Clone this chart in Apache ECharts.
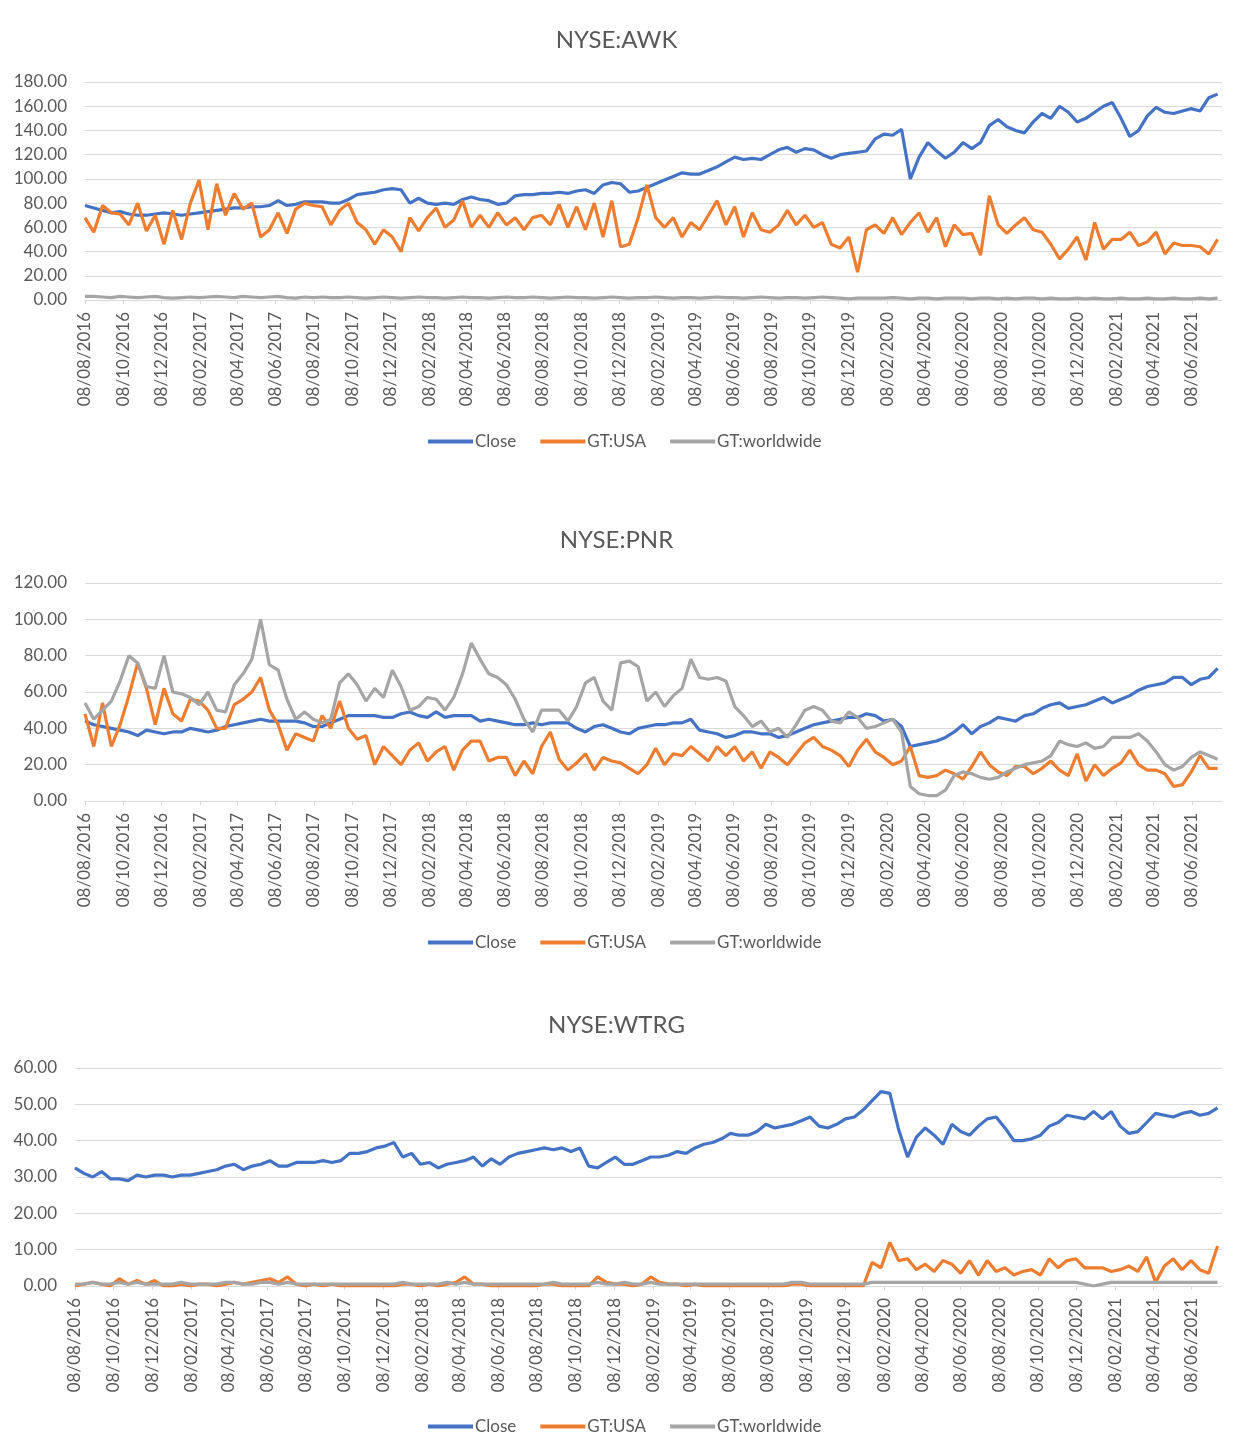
<!DOCTYPE html>
<html>
<head>
<meta charset="utf-8">
<script src="https://cdn.jsdelivr.net/npm/echarts@6/dist/echarts.min.js"></script>
<style>html,body{margin:0;padding:0;background:#fff}#c{width:1233px;height:1450px}</style>
</head>
<body>
<div id="c"></div>
<script>
// Weekly-style observations sampled every 14 days from 08/08/2016
const startDate = '2016-08-08';
const stepDays = 14;
const seriesNames = ['Close', 'GT:USA', 'GT:worldwide'];
const titles = ['NYSE:AWK', 'NYSE:PNR', 'NYSE:WTRG'];

const tickLabels = ['08/08/2016','08/10/2016','08/12/2016','08/02/2017','08/04/2017','08/06/2017','08/08/2017','08/10/2017','08/12/2017','08/02/2018','08/04/2018','08/06/2018','08/08/2018','08/10/2018','08/12/2018','08/02/2019','08/04/2019','08/06/2019','08/08/2019','08/10/2019','08/12/2019','08/02/2020','08/04/2020','08/06/2020','08/08/2020','08/10/2020','08/12/2020','08/02/2021','08/04/2021','08/06/2021'];

const awkClose = [78,76,74,72,73,71,70,70,71,72, 71,70,71,72,73,74,75,76,76,77, 77,78,82,78,79,81,81,81,80,80, 83,87,88,89,91,92,91,80,84,80, 79,80,79,83,85,83,82,79,80,86, 87,87,88,88,89,88,90,91,88,95, 97,96,89,90,93,96,99,102,105,104, 104,107,110,114,118,116,117,116,120,124, 126,122,125,124,120,117,120,121,122,123, 133,137,136,141,100,118,130,123,117,122, 130,125,130,144,149,143,140,138,147,154, 150,160,155,147,150,155,160,163,150,135, 140,152,159,155,154,156,158,156,167,170];
const awkUSA = [68,56,78,72,71,62,80,57,70,46, 74,50,80,99,58,96,70,88,75,80, 52,58,72,55,75,80,78,77,62,74, 80,64,58,46,58,52,40,68,57,68, 76,60,66,82,60,70,60,72,62,68, 58,68,70,62,79,60,77,58,80,52, 82,44,46,68,95,68,60,68,52,64, 58,70,82,62,77,52,72,58,56,62, 74,62,70,60,64,46,43,52,23,58, 62,55,68,54,64,72,56,68,44,62, 54,55,37,86,62,55,62,68,58,56, 46,34,42,52,33,64,42,50,50,56, 45,48,56,38,47,45,45,44,38,50];
const awkWorld = [3,3,2.5,2,3,2.5,2,2.5,3,2, 1.5,2,2.5,2,2.5,3,2.5,2,3,2.5, 2,2.5,3,2,1.5,2.5,2,2.5,2,2, 2.5,2,1.5,2,2.5,2,1.5,2,2.5,2, 2,1.5,2,2.5,2,2,1.5,2,2.5,2, 2,2.5,2,1.5,2,2.5,2,2,1.5,2, 2.5,2,1.5,2,2,2.5,2,1.5,2,2, 1.5,2,2.5,2,2,1.5,2,2.5,2,1.5, 2,2,1.5,2,2.5,2,1.5,1,1.5,1.5, 1.5,1.5,2,1.5,1,1.5,1.5,1,1.5,1.5, 1.5,1,1.5,1.5,1,1.5,1,1.5,1.5,1, 1.5,1,1,1.5,1,1.5,1,1,1.5,1, 1,1.5,1,1,1.5,1,1,1.5,1,1.5];

const pnrClose = [44,42,41,40,39,38,36,39,38,37, 38,38,40,39,38,39,41,42,43,44, 45,44,44,44,44,43,41,41,43,45, 47,47,47,47,46,46,48,49,47,46, 49,46,47,47,47,44,45,44,43,42, 42,43,42,43,43,43,40,38,41,42, 40,38,37,40,41,42,42,43,43,45, 39,38,37,35,36,38,38,37,37,35, 36,38,40,42,43,44,45,46,46,48, 47,44,45,41,30,31,32,33,35,38, 42,37,41,43,46,45,44,47,48,51, 53,54,51,52,53,55,57,54,56,58, 61,63,64,65,68,68,64,67,68,73];
const pnrUSA = [48,30,54,30,42,58,76,62,42,62, 48,44,56,55,50,40,40,53,56,60, 68,50,42,28,37,35,33,47,40,55, 40,34,36,20,30,25,20,28,32,22, 27,30,17,28,33,33,22,24,24,14, 22,15,30,38,23,17,21,26,17,24, 22,21,18,15,20,29,20,26,25,30, 26,22,30,25,30,22,27,18,27,24, 20,26,32,35,30,28,25,19,28,34, 27,24,20,22,30,14,13,14,17,15, 12,19,27,20,16,14,19,19,15,18, 22,17,14,26,11,20,14,18,21,28, 20,17,17,15,8,9,16,25,18,18];
const pnrWorld = [54,45,50,55,66,80,76,63,62,80, 60,59,57,53,60,50,49,64,70,78, 100,75,72,56,45,49,45,43,45,65, 70,64,55,62,57,72,63,50,52,57, 56,50,57,70,87,78,70,68,64,56, 45,38,50,50,50,44,52,65,68,55, 50,76,77,74,55,60,52,58,62,78, 68,67,68,66,52,47,41,44,38,40, 35,42,50,52,50,44,43,49,46,40, 41,43,45,38,8,4,3,3,6,14, 16,15,13,12,13,16,18,20,21,22, 25,33,31,30,32,29,30,35,35,35, 37,33,27,20,17,19,24,27,25,23];

const wtrgClose = [32.5,31,30,31.5,29.5,29.5,29,30.5,30,30.5, 30.5,30,30.5,30.5,31,31.5,32,33,33.5,32, 33,33.5,34.5,33,33,34,34,34,34.5,34, 34.5,36.5,36.5,37,38,38.5,39.5,35.5,36.5,33.5, 34,32.5,33.5,34,34.5,35.5,33,35,33.5,35.5, 36.5,37,37.5,38,37.5,38,37,38,33,32.5, 34,35.5,33.5,33.5,34.5,35.5,35.5,36,37,36.5, 38,39,39.5,40.5,42,41.5,41.5,42.5,44.5,43.5, 44,44.5,45.5,46.5,44,43.5,44.5,46,46.5,48.5, 51,53.5,53,43,35.5,41,43.5,41.5,39,44.5, 42.5,41.5,44,46,46.5,43.5,40,40,40.5,41.5, 44,45,47,46.5,46,48,46,48,44,42, 42.5,45,47.5,47,46.5,47.5,48,47,47.5,49];
const wtrgUSA = [0,0.5,1,0.5,0,2,0.5,1.5,0.5,1.5, 0,0,0.5,0,0.5,0.5,0,0.5,1,0.5, 1,1.5,2,1,2.5,0.5,0,0.5,0,0.5, 0,0,0,0,0,0,0,0.5,0.5,0, 0.5,0,0.5,1,2.5,0.5,0.5,0,0,0, 0,0,0,0.5,0.5,0,0,0,0,2.5, 1,0.5,0.5,0,0.5,2.5,1,0.5,0.5,0, 0.5,0,0,0,0,0,0,0,0,0, 0,0.5,0.5,0,0,0,0,0,0,0, 6.5,5,12,7,7.5,4.5,6,4,7,6, 3.5,7,3,7,4,5,3,4,4.5,3, 7.5,5,7,7.5,5,5,5,4,4.5,5.5, 4,8,1,5.5,7.5,4.5,7,4.5,3.5,11];
const wtrgWorld = [0.5,0.5,1,0.5,0.5,1,0.5,1,0.5,0.5, 0.5,0.5,1,0.5,0.5,0.5,0.5,1,1,0.5, 0.5,1,1,0.5,1,0.5,0.5,0.5,0.5,0.5, 0.5,0.5,0.5,0.5,0.5,0.5,0.5,1,0.5,0.5, 0.5,0.5,1,0.5,1,0.5,0.5,0.5,0.5,0.5, 0.5,0.5,0.5,0.5,1,0.5,0.5,0.5,0.5,1, 0.5,0.5,1,0.5,0.5,1,0.5,0.5,0.5,0.5, 0.5,0.5,0.5,0.5,0.5,0.5,0.5,0.5,0.5,0.5, 0.5,1,1,0.5,0.5,0.5,0.5,0.5,0.5,0.5, 1,1,1,1,1,1,1,1,1,1, 1,1,1,1,1,1,1,1,1,1, 1,1,1,1,0.5,0,0.5,1,1,1, 1,1,1,1,1,1,1,1,1,1];

const panelData = [
  [awkClose, awkUSA, awkWorld],
  [pnrClose, pnrUSA, pnrWorld],
  [wtrgClose, wtrgUSA, wtrgWorld]
];
const yMax = [180, 120, 60];
const yStep = [20, 20, 10];

// layout
const gridTop = [82, 583, 1068];
const gridLeft = [85, 85, 75];
const titleTop = [23, 523, 1008];
const legendTop = [428, 929, 1413];
const colors = ['#4472C4', '#ED7D31', '#A5A5A5'];
const txt = '#595959';
const FONT = 'Lato, "Open Sans", sans-serif';

const DAY = 86400000;
const t0 = Date.parse(startDate + 'T00:00:00Z');
function dayOf(lbl) {
  const p = lbl.split('/');
  return Math.round((Date.UTC(+p[2], +p[1] - 1, +p[0]) - t0) / DAY);
}
const tickPos = tickLabels.map(dayOf);
const labelByPos = {};
tickPos.forEach((d, k) => { labelByPos[d] = tickLabels[k]; });
const xMax = 1813;

const option = {
  animation: false,
  backgroundColor: '#ffffff',
  color: colors,
  textStyle: { fontFamily: FONT },
  title: titles.map((t, k) => ({
    text: t, left: 'center', top: titleTop[k],
    textStyle: { fontSize: 24, fontWeight: 'normal', color: txt, fontFamily: FONT }
  })),
  legend: legendTop.map(top => ({
    data: seriesNames, left: 423, top: top,
    icon: 'rect', itemWidth: 45, itemHeight: 4, itemGap: 24,
    textStyle: { fontSize: 17, color: txt, fontFamily: FONT, padding: [0, 0, 0, -3] }
  })),
  grid: gridTop.map((top, k) => ({ left: gridLeft[k], right: 11, top: top, height: 218, containLabel: false })),
  xAxis: gridTop.map((_, k) => ({
    type: 'value', gridIndex: k, min: 0, max: xMax,
    axisLine: { show: true, lineStyle: { color: '#d9d9d9', width: 1 } },
    axisTick: { show: true, customValues: tickPos, length: 4, lineStyle: { color: '#d9d9d9' } },
    splitLine: { show: false },
    axisLabel: {
      customValues: tickPos, rotate: 90, margin: 12,
      fontSize: 17, color: txt, fontFamily: FONT,
      formatter: v => labelByPos[Math.round(v)] || ''
    }
  })),
  yAxis: gridTop.map((_, k) => ({
    type: 'value', gridIndex: k, min: 0, max: yMax[k], interval: yStep[k],
    axisLine: { show: false }, axisTick: { show: false },
    splitLine: { lineStyle: { color: '#d9d9d9', width: 1 } },
    axisLabel: { fontSize: 17, color: txt, margin: 18, fontFamily: FONT, formatter: v => v.toFixed(2) }
  })),
  series: []
};

panelData.forEach((arrs, k) => {
  arrs.forEach((vals, s) => {
    option.series.push({
      name: seriesNames[s], type: 'line', xAxisIndex: k, yAxisIndex: k,
      symbol: 'none', showSymbol: false,
      lineStyle: { width: 3.2, color: colors[s] },
      itemStyle: { color: colors[s] },
      data: vals.map((v, i) => [i * stepDays, v])
    });
  });
});

const chart = echarts.init(document.getElementById('c'), null, { renderer: 'canvas' });
chart.setOption(option);
</script>
</body>
</html>
